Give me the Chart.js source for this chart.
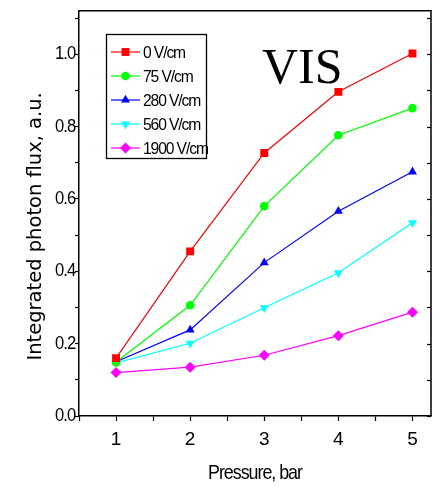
<!DOCTYPE html>
<html>
<head>
<meta charset="utf-8">
<script src="https://cdn.jsdelivr.net/npm/chart.js@4"></script>
<style>
  html, body { margin: 0; padding: 0; background: #fff; }
  #wrap { width: 438px; height: 487px; }
</style>
</head>
<body>
<div id="wrap"><canvas id="fluxChart" width="438" height="487"></canvas></div>
<script>
// data
const pressure = [1, 2, 3, 4, 5];
const flux0 = [0.160, 0.455, 0.727, 0.896, 1.002];
const flux75 = [0.149, 0.306, 0.580, 0.776, 0.851];
const flux280 = [0.150, 0.238, 0.424, 0.566, 0.675];
const flux560 = [0.147, 0.201, 0.299, 0.396, 0.534];
const flux1900 = [0.120, 0.135, 0.168, 0.222, 0.287];

const seriesLabels = ['0 V/cm', '75 V/cm', '280 V/cm', '560 V/cm', '1900 V/cm'];
const xTicks = [0.5, 1, 1.5, 2, 2.5, 3, 3.5, 4, 4.5, 5];
const yTicks = [0, 0.1, 0.2, 0.3, 0.4, 0.5, 0.6, 0.7, 0.8, 0.9, 1.0, 1.1];

const sans = "'Liberation Sans', Arial, sans-serif";

function toPoints(ys) {
    return pressure.map((p, i) => ({ x: p, y: ys[i] }));
}

function makeSet(label, ys, color, style, radius, rotation) {
    return {
        label: label,
        data: toPoints(ys),
        borderColor: color,
        backgroundColor: color,
        borderWidth: 1.2,
        pointStyle: style,
        pointRadius: radius,
        pointRotation: rotation || 0,
        pointBorderWidth: 0,
        pointBackgroundColor: color,
        tension: 0
    };
}

// the original uses a squeezed font for some texts: narrow the glyphs
// around an anchor and tighten the letters
function wrapDraw(scale, name, spacing, sx, anchor, dy) {
    if (scale['_wrapped_' + name]) return;
    const orig = scale[name];
    scale[name] = function (...args) {
        const c = this.ctx;
        const ax = anchor(this);
        c.save();
        c.letterSpacing = spacing;
        c.translate(ax, dy);
        c.scale(sx, 1);
        c.translate(-ax, 0);
        orig.apply(this, args);
        c.restore();
    };
    scale['_wrapped_' + name] = true;
}

const condensePlugin = {
    id: 'condense',
    beforeDraw(chart) {
        wrapDraw(chart.scales.y, 'drawLabels', '-1px', 0.92, s => s.right, 0);
        wrapDraw(chart.scales.x, 'drawTitle', '-1.2px', 0.85, s => (s.left + s.right) / 2, 0);
        wrapDraw(chart.scales.y, 'drawTitle', '0px', 1, s => 0, 13);
    }
};

// legend box, frame and the VIS label drawn on top of the plot
const extrasPlugin = {
    id: 'extras',
    afterDraw(chart) {
        const ctx = chart.ctx;
        const area = chart.chartArea;
        const y = chart.scales.y;
        ctx.save();

        // top and right frame, right side ticks point inward
        ctx.strokeStyle = '#000';
        ctx.lineWidth = 1.5;
        ctx.beginPath();
        ctx.moveTo(area.left, area.top);
        ctx.lineTo(area.right, area.top);
        ctx.lineTo(area.right, area.bottom);
        ctx.stroke();
        ctx.lineWidth = 1.2;
        yTicks.forEach(v => {
            const py = Math.round(y.getPixelForValue(v)) + 0.5;
            ctx.beginPath();
            ctx.moveTo(area.right, py);
            ctx.lineTo(area.right - 4, py);
            ctx.stroke();
        });

        // VIS
        ctx.fillStyle = '#000';
        ctx.font = "50px 'Liberation Serif', 'Times New Roman', serif";
        ctx.textBaseline = 'alphabetic';
        ctx.textAlign = 'left';
        ctx.fillText('VIS', 262, 83);

        // legend
        const box = { x: 106.5, y: 34.5, w: 100, h: 124 };
        ctx.lineWidth = 1.3;
        ctx.strokeStyle = '#000';
        ctx.strokeRect(box.x, box.y, box.w, box.h);
        ctx.font = '17px ' + sans;
        ctx.textBaseline = 'middle';
        chart.data.datasets.forEach((ds, i) => {
            const ry = 52 + i * 24;
            ctx.strokeStyle = ds.borderColor;
            ctx.lineWidth = 1.2;
            ctx.beginPath();
            ctx.moveTo(111, ry);
            ctx.lineTo(140, ry);
            ctx.stroke();
            ctx.fillStyle = ds.backgroundColor;
            if (Chart.helpers && Chart.helpers.drawPoint) {
                Chart.helpers.drawPoint(ctx, {
                    pointStyle: ds.pointStyle,
                    rotation: ds.pointRotation,
                    radius: ds.pointRadius,
                    borderWidth: 0
                }, 125.5, ry);
            }
            ctx.save();
            ctx.fillStyle = '#000';
            ctx.letterSpacing = '-1.2px';
            ctx.translate(143, ry + 1);
            ctx.scale(0.92, 1);
            ctx.fillText(ds.label, 0, 0);
            ctx.restore();
        });
        ctx.restore();
    }
};

const ctx = document.getElementById('fluxChart').getContext('2d');

new Chart(ctx, {
    type: 'line',
    data: {
        datasets: [
            makeSet(seriesLabels[0], flux0, '#ff0000', 'rect', 5.6),
            makeSet(seriesLabels[1], flux75, '#00ff00', 'circle', 4.3),
            makeSet(seriesLabels[2], flux280, '#0000ff', 'triangle', 5.2),
            makeSet(seriesLabels[3], flux560, '#00ffff', 'triangle', 5.2, 180),
            makeSet(seriesLabels[4], flux1900, '#ff00ff', 'rectRot', 5.5)
        ]
    },
    options: {
        responsive: false,
        animation: false,
        layout: { padding: { top: 10, right: 7, left: 0, bottom: 0 } },
        plugins: {
            legend: { display: false },
            tooltip: { enabled: false }
        },
        scales: {
            x: {
                type: 'linear',
                min: 0.5,
                max: 5.25,
                afterBuildTicks: (scale) => { scale.ticks = xTicks.map(v => ({ value: v })); },
                afterFit: (scale) => { scale.height = 71; },
                grid: { drawOnChartArea: false, tickLength: 5, tickColor: '#000', tickWidth: 1.2 },
                border: { color: '#000', width: 1.5 },
                ticks: {
                    color: '#000',
                    padding: 7,
                    maxRotation: 0,
                    autoSkip: false,
                    font: { family: sans, size: 19 },
                    callback: (v) => Number.isInteger(v) ? String(v) : ''
                },
                title: {
                    display: true,
                    text: 'Pressure, bar',
                    color: '#000',
                    font: { family: sans, size: 21 },
                    padding: { top: 0, bottom: 1 }
                }
            },
            y: {
                min: 0,
                max: 1.12,
                afterBuildTicks: (scale) => { scale.ticks = yTicks.map(v => ({ value: v })); },
                afterFit: (scale) => { scale.width = 79; },
                grid: { drawOnChartArea: false, tickLength: 4, tickColor: '#000', tickWidth: 1.2 },
                border: { color: '#000', width: 1.5 },
                ticks: {
                    color: '#000',
                    padding: 0,
                    autoSkip: false,
                    font: { family: sans, size: 18 },
                    callback: (v) => (Math.round(v * 10) % 2 === 0) ? v.toFixed(1) : ''
                },
                title: {
                    display: true,
                    text: 'Integrated photon flux, a.u.',
                    color: '#000',
                    font: { family: "'DejaVu Sans', sans-serif", size: 19.5 },
                    padding: { top: 24, bottom: 0 }
                }
            }
        }
    },
    plugins: [condensePlugin, extrasPlugin]
});
</script>
</body>
</html>
